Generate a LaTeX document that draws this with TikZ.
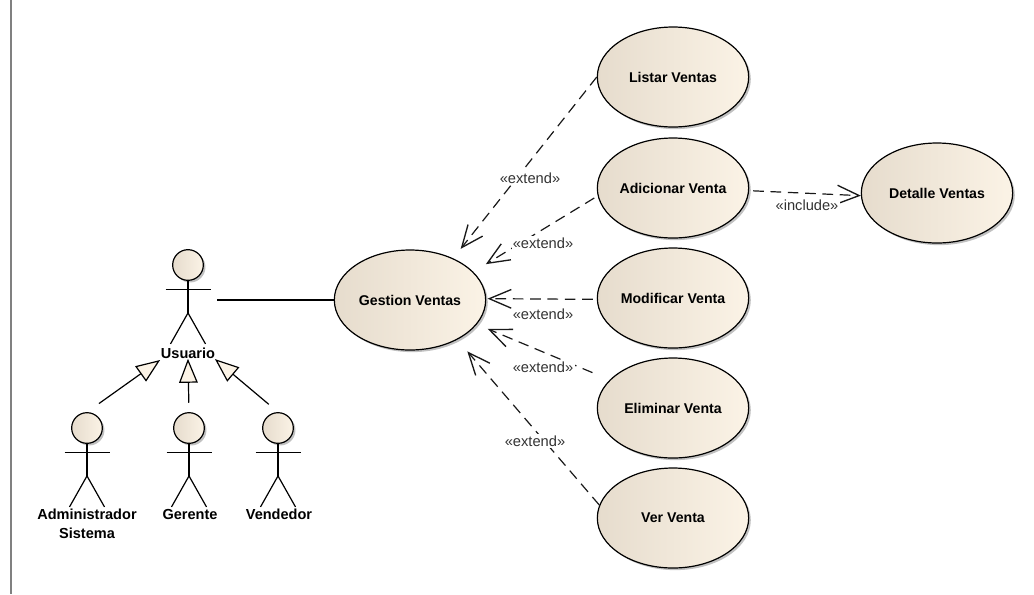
\documentclass[tikz,border=0pt]{standalone}
\usepackage{fontspec}
\setmainfont{Liberation Sans}
\usetikzlibrary{shapes.geometric,arrows.meta,shadows,positioning}
\definecolor{fillleft}{HTML}{E6DCCD}
\definecolor{fillright}{HTML}{FBF3E6}
\definecolor{noteink}{HTML}{333333}
\definecolor{rulegray}{HTML}{808080}
\newcommand{\actorbody}[1]{
  \draw[stick] (#1.south) -- ++(0,32) coordinate (#1hip);
  \draw[stick] ([shift={(-22.5,8.5)}]#1.south) -- ([shift={(22.5,8.5)}]#1.south);
  \draw[stick] ([shift={(-17.5,31)}]#1hip) -- (#1hip) -- ([shift={(17.5,31)}]#1hip);
}
\begin{document}
\begin{tikzpicture}[x=0.75pt, y=-0.75pt, line width=0.9pt,
    raised/.style={left color=fillleft, right color=fillright, draw=black,
      drop shadow={shadow xshift=1.6pt, shadow yshift=-1.6pt, fill=black!35, opacity=.7}},
    usecase/.style={raised, ellipse, inner sep=0pt, minimum width=113.5pt, minimum height=75pt,
      font=\fontsize{10.6}{12}\selectfont\bfseries},
    actorhead/.style={raised, circle, inner sep=0pt, minimum size=23pt},
    actorname/.style={inner sep=1pt, align=center, font=\fontsize{10.9}{14.25}\selectfont\bfseries},
    stick/.style={draw=black},
    stereo/.style={fill=white, inner sep=1pt, text=noteink, font=\fontsize{11}{12}\selectfont},
    dep/.style={draw=black!90, dash pattern=on 8pt off 5pt, -{Straight Barb[length=16.5pt,width=14pt,line width=1pt]}},
    gen/.style={draw=black, -{Triangle[open,fill=fillright,length=18pt,width=14pt,line width=0.9pt]}}]
  \useasboundingbox (0,0) rectangle (1034,594);
  \draw[rulegray, line width=1.1pt] (11,0) -- (11,594);
  % use cases
  \node (gestion) [usecase] at (410,300) {Gestion Ventas};
  \node (listar) [usecase] at (673,77) {Listar Ventas};
  \node (adicionar) [usecase] at (673,188) {Adicionar Venta};
  \node (modificar) [usecase] at (673,298) {Modificar Venta};
  \node (eliminar) [usecase] at (673,408) {Eliminar Venta};
  \node (ver) [usecase] at (673,518) {Ver Venta};
  \node (detalle) [usecase] at (937,193) {Detalle Ventas};
  % actors
  \node (usuario) [actorhead] at (188,265) {};
  \node (admin) [actorhead] at (87,428) {};
  \node (gerente) [actorhead] at (189,428) {};
  \node (vendedor) [actorhead] at (278,428) {};
  \actorbody{usuario}
  \actorbody{admin}
  \actorbody{gerente}
  \actorbody{vendedor}
  \node (usuariolabel) [actorname] at (188,353.5) {Usuario};
  \node (adminlabel) [actorname, anchor=north] at (87,507) {Administrador\\Sistema};
  \node (gerentelabel) [actorname, anchor=north] at (190,507) {Gerente};
  \node (vendedorlabel) [actorname, anchor=north] at (279,507) {Vendedor};
  % connectors
  \coordinate (usuarioport) at (217,300);
  \draw[stick] (usuarioport) -- (gestion.west);
  \draw[gen, shorten <=11pt, shorten >=-1pt] (admin.north) -- (usuariolabel.south west);
  \draw[gen, shorten <=7pt, shorten >=-1.5pt] (gerente.north) -- (usuariolabel.south);
  \draw[gen, shorten <=9pt, shorten >=-2pt] (vendedor.north) -- (usuariolabel.south east);
  \draw[dep, shorten >=9pt] (listar.west) -- (gestion.44);
  \draw[dep, shorten >=11pt, shorten <=3pt] (adicionar.186) -- (gestion.24);
  \draw[dep, shorten >=1pt, shorten <=3pt] (modificar.181) -- (gestion.1);
  \draw[dep, shorten >=8.8pt, shorten <=14pt] (eliminar.156) -- (gestion.-20);
  \draw[dep, shorten >=11.5pt] (ver.170) -- (gestion.-40);
  \draw[dep, shorten <=3pt] (adicionar.-2) -- (detalle.182);
  % stereotypes
  \node (extendlistar) [stereo] at (530,178) {«extend»};
  \node (extendadicionar) [stereo] at (543,243) {«extend»};
  \node (extendmodificar) [stereo] at (543,314) {«extend»};
  \node (extendeliminar) [stereo] at (543,367) {«extend»};
  \node (extendver) [stereo] at (535,441) {«extend»};
  \node (includedetalle) [stereo] at (807,205) {«include»};
\end{tikzpicture}
\end{document}
